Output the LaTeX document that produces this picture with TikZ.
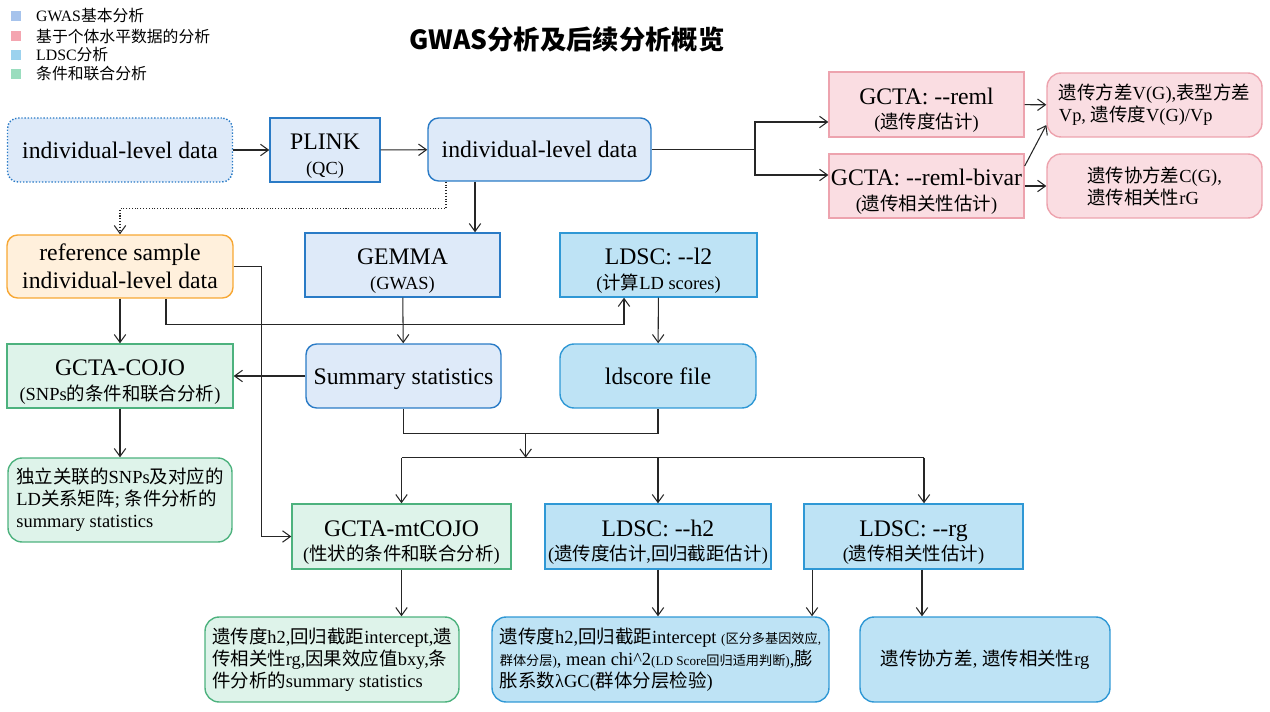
\documentclass[tikz,border=0pt]{standalone}
\usepackage{fontspec}
\setmainfont{Liberation Serif}
\newfontfamily\zhfont{Noto Sans CJK SC}
\usepackage{tikz}
\usetikzlibrary{calc,arrows.meta}
\definecolor{gwasfill}{HTML}{DEEAF9}
\definecolor{gwasdraw}{HTML}{2A7BC6}
\definecolor{indfill}{HTML}{FADDE2}
\definecolor{inddraw}{HTML}{EDA3AE}
\definecolor{reffill}{HTML}{FFF0DC}
\definecolor{refdraw}{HTML}{F7A733}
\definecolor{cojofill}{HTML}{DEF3EA}
\definecolor{cojodraw}{HTML}{4DB27E}
\definecolor{ldfill}{HTML}{BEE3F5}
\definecolor{lddraw}{HTML}{2F98D5}
\definecolor{lgblue}{HTML}{A6C3EC}
\definecolor{lgpink}{HTML}{F4A5B0}
\definecolor{lgcyan}{HTML}{9CD2EE}
\definecolor{lggreen}{HTML}{9ADDBE}
\newcommand{\zh}[1]{{\zhfont #1}}
\newcommand{\ddash}{-\kern0pt-}
\newcommand{\bigf}{\fontsize{13.5}{16}\selectfont}
\newcommand{\subf}{\fontsize{10.5}{13}\selectfont}
\newcommand{\outf}{\fontsize{10.5}{12.5}\selectfont}
\newcommand{\tinyf}{\fontsize{7.5}{9}\selectfont}
% title line and smaller second line
\newcommand{\twol}[2]{\rule{0pt}{16pt}#1\\[-2pt]{\subf #2}}
\tikzset{
  box/.style={inner sep=0pt, align=center, font=\bigf, line width=0.8pt},
  gwasbox/.style={box, draw=gwasdraw, fill=gwasfill},
  gwasround/.style={gwasbox, rounded corners=6pt},
  indivbox/.style={box, draw=inddraw, fill=indfill},
  indivround/.style={indivbox, rounded corners=8pt, font=\outf, align=left},
  refbox/.style={box, draw=refdraw, fill=reffill, rounded corners=6pt},
  cojobox/.style={box, draw=cojodraw, fill=cojofill},
  cojoround/.style={cojobox, rounded corners=8pt, font=\outf, align=left},
  ldscbox/.style={box, draw=lddraw, fill=ldfill},
  ldscround/.style={ldscbox, rounded corners=8pt},
  ln/.style={draw=black!85, line width=0.6pt},
  arr/.style={ln, -{Straight Barb[length=4.5pt,width=6.5pt]}},
  dotarr/.style={arr, densely dotted},
  legsq/.style={minimum size=0.2cm, inner sep=0pt},
  legtext/.style={anchor=west, font=\fontsize{9}{11}\selectfont},
}

\begin{document}
\begin{tikzpicture}[x=0.02cm, y=-0.02cm]
  \useasboundingbox (0,0) rectangle (1270,712);

  % legend and title
  \node[legsq, fill=lgblue] (lg1) at (16,16) {};
  \node[legsq, fill=lgpink] (lg2) at (16,36) {};
  \node[legsq, fill=lgcyan] (lg3) at (16,55) {};
  \node[legsq, fill=lggreen] (lg4) at (16,74) {};
  \node[legtext] (lt1) at (30,16) {GWAS\zh{基本分析}};
  \node[legtext] (lt2) at (30,36) {\zh{基于个体水平数据的分析}};
  \node[legtext] (lt3) at (30,55) {LDSC\zh{分析}};
  \node[legtext] (lt4) at (30,74) {\zh{条件和联合分析}};
  \node[font=\fontsize{15}{18}\selectfont\zhfont\bfseries] (title) at (567,40) {GWAS分析及后续分析概览};

  % top row
  \node[gwasround, densely dotted, minimum width=4.5cm, minimum height=1.28cm] (in1) at (120,150) {individual-level data};
  \node[gwasbox, minimum width=2.2cm, minimum height=1.28cm] (plink) at (325,150) {\twol{PLINK}{(QC)}};
  \node[gwasround, minimum width=4.46cm, minimum height=1.26cm] (in2) at (539.5,149.5) {individual-level data};
  \node[indivbox, minimum width=3.9cm, minimum height=1.3cm] (reml) at (926.5,104.5) {\twol{GCTA: \ddash reml}{(\zh{遗传度估计})}};
  \node[indivbox, minimum width=3.9cm, minimum height=1.28cm] (bivar) at (926.5,186) {\twol{GCTA: \ddash reml-bivar}{(\zh{遗传相关性估计})}};
  \node[indivround, minimum width=4.3cm, minimum height=1.28cm] (vgout) at (1154.5,105) {\zh{遗传方差}V(G),\zh{表型方差}\\Vp, \zh{遗传度}V(G)/Vp};
  \node[indivround, minimum width=4.3cm, minimum height=1.28cm] (cgout) at (1154.5,186) {\zh{遗传协方差}C(G),\\\zh{遗传相关性}rG};

  % middle rows
  \node[refbox, minimum width=4.52cm, minimum height=1.26cm] (refs) at (120,266.5) {reference sample\\individual-level data};
  \node[gwasbox, minimum width=3.9cm, minimum height=1.28cm] (gemma) at (402.5,265) {\twol{GEMMA}{(GWAS)}};
  \node[ldscbox, minimum width=3.94cm, minimum height=1.28cm] (ldl2) at (658.5,265) {\twol{LDSC: \ddash l2}{(\zh{计算}LD scores)}};
  \node[cojobox, minimum width=4.52cm, minimum height=1.28cm] (cojo) at (120,376) {\twol{GCTA-COJO}{(SNPs\zh{的条件和联合分析})}};
  \node[gwasround, minimum width=3.9cm, minimum height=1.28cm] (sumst) at (403.5,376) {\rule{0pt}{13pt}Summary statistics};
  \node[ldscround, minimum width=3.92cm, minimum height=1.28cm] (ldfile) at (658,376) {ldscore file};
  \node[cojoround, minimum width=4.48cm, minimum height=1.68cm] (cojoout) at (120,500) {\zh{独立关联的}SNPs\zh{及对应的}\\LD\zh{关系矩阵}; \zh{条件分析的}\\summary statistics};

  % lower rows
  \node[cojobox, minimum width=4.38cm, minimum height=1.3cm] (mtcojo) at (401.5,536.5) {\twol{GCTA-mtCOJO}{(\zh{性状的条件和联合分析})}};
  \node[ldscbox, minimum width=4.52cm, minimum height=1.3cm] (ldh2) at (658,536.5) {\twol{LDSC: \ddash h2}{(\zh{遗传度估计},\zh{回归截距估计})}};
  \node[ldscbox, minimum width=4.38cm, minimum height=1.3cm] (ldrg) at (913.5,536.5) {\twol{LDSC: \ddash rg}{(\zh{遗传相关性估计})}};
  \node[cojoround, minimum width=5.08cm, minimum height=1.7cm] (mtout) at (332,659.5) {\zh{遗传度}h2,\zh{回归截距}intercept,\zh{遗}\\\zh{传相关性}rg,\zh{因果效应值}bxy,\zh{条}\\\zh{件分析的}summary statistics};
  \node[ldscround, font=\outf, align=left, minimum width=6.74cm, minimum height=1.7cm] (h2out) at (660.5,659.5) {\zh{遗传度}h2,\zh{回归截距}intercept {\tinyf(\zh{区分多基因效应},}\\{\tinyf\zh{群体分层})}, mean chi\textasciicircum2{\tinyf(LD Score\zh{回归适用判断})},\zh{膨}\\\zh{胀系数}λGC(\zh{群体分层检验})};
  \node[ldscround, font=\outf, minimum width=5cm, minimum height=1.7cm] (rgout) at (985,659.5) {\zh{遗传协方差}, \zh{遗传相关性}rg};

  % connectors, top
  \draw[arr] (in1) -- (plink);
  \draw[arr] (plink) -- (in2);
  \draw[ln] (in2.east) -- (755,149.5) coordinate (sp1);
  \draw[arr] (sp1) |- ([yshift=-0.35cm]reml.west);
  \draw[arr] (sp1) |- ([yshift=0.22cm]bivar.west);
  \draw[arr] (reml) -- (vgout);
  \draw[arr] ([yshift=0.4cm]bivar.east) -- ([yshift=-0.4cm]vgout.west);
  \draw[arr] (bivar) -- (cgout);
  \draw[arr] ([xshift=-1.29cm]in2.south) coordinate (g1) -- (g1 |- gemma.north);
  \draw[dotarr] ([xshift=-1.87cm]in2.south) -- ++(0,27) -| (refs.north);

  % connectors, reference sample
  \draw[arr] (refs.east) -- ++(28,0) |- (mtcojo.west);
  \draw[arr] ([xshift=0.92cm]refs.south) -- ++(0,26) -| ([xshift=-0.69cm]ldl2.south);
  \draw[arr] (refs) -- (cojo);
  \draw[arr] (gemma) -- (sumst);
  \draw[arr] (sumst) -- (cojo);
  \draw[arr] (ldl2) -- (ldfile);
  \draw[arr] (cojo) -- (cojoout);

  % merge and split
  \draw[ln] (sumst.south) -- ++(0,25) coordinate (m1) -| (ldfile.south);
  \draw[arr] ($(m1)!0.48!(m1 -| ldfile.south)$) -- ++(0,24) coordinate (d1);
  \coordinate (rgin) at ([xshift=0.21cm]ldrg.north);
  \draw[ln] (d1 -| mtcojo.north) -- (d1 -| rgin);
  \draw[arr] (d1 -| mtcojo.north) -- (mtcojo.north);
  \draw[arr] (d1 -| ldh2.north) -- (ldh2.north);
  \draw[arr] (rgin |- d1) -- (rgin);

  % bottom
  \draw[arr] (mtcojo.south) -- (mtcojo.south |- mtout.north);
  \draw[arr] (ldh2.south) -- (ldh2.south |- h2out.north);
  \draw[arr] ([xshift=-2.03cm]ldrg.south) coordinate (r1) -- (r1 |- h2out.north);
  \draw[arr] ([xshift=0.17cm]ldrg.south) coordinate (r2) -- (r2 |- rgout.north);
\end{tikzpicture}
\end{document}
